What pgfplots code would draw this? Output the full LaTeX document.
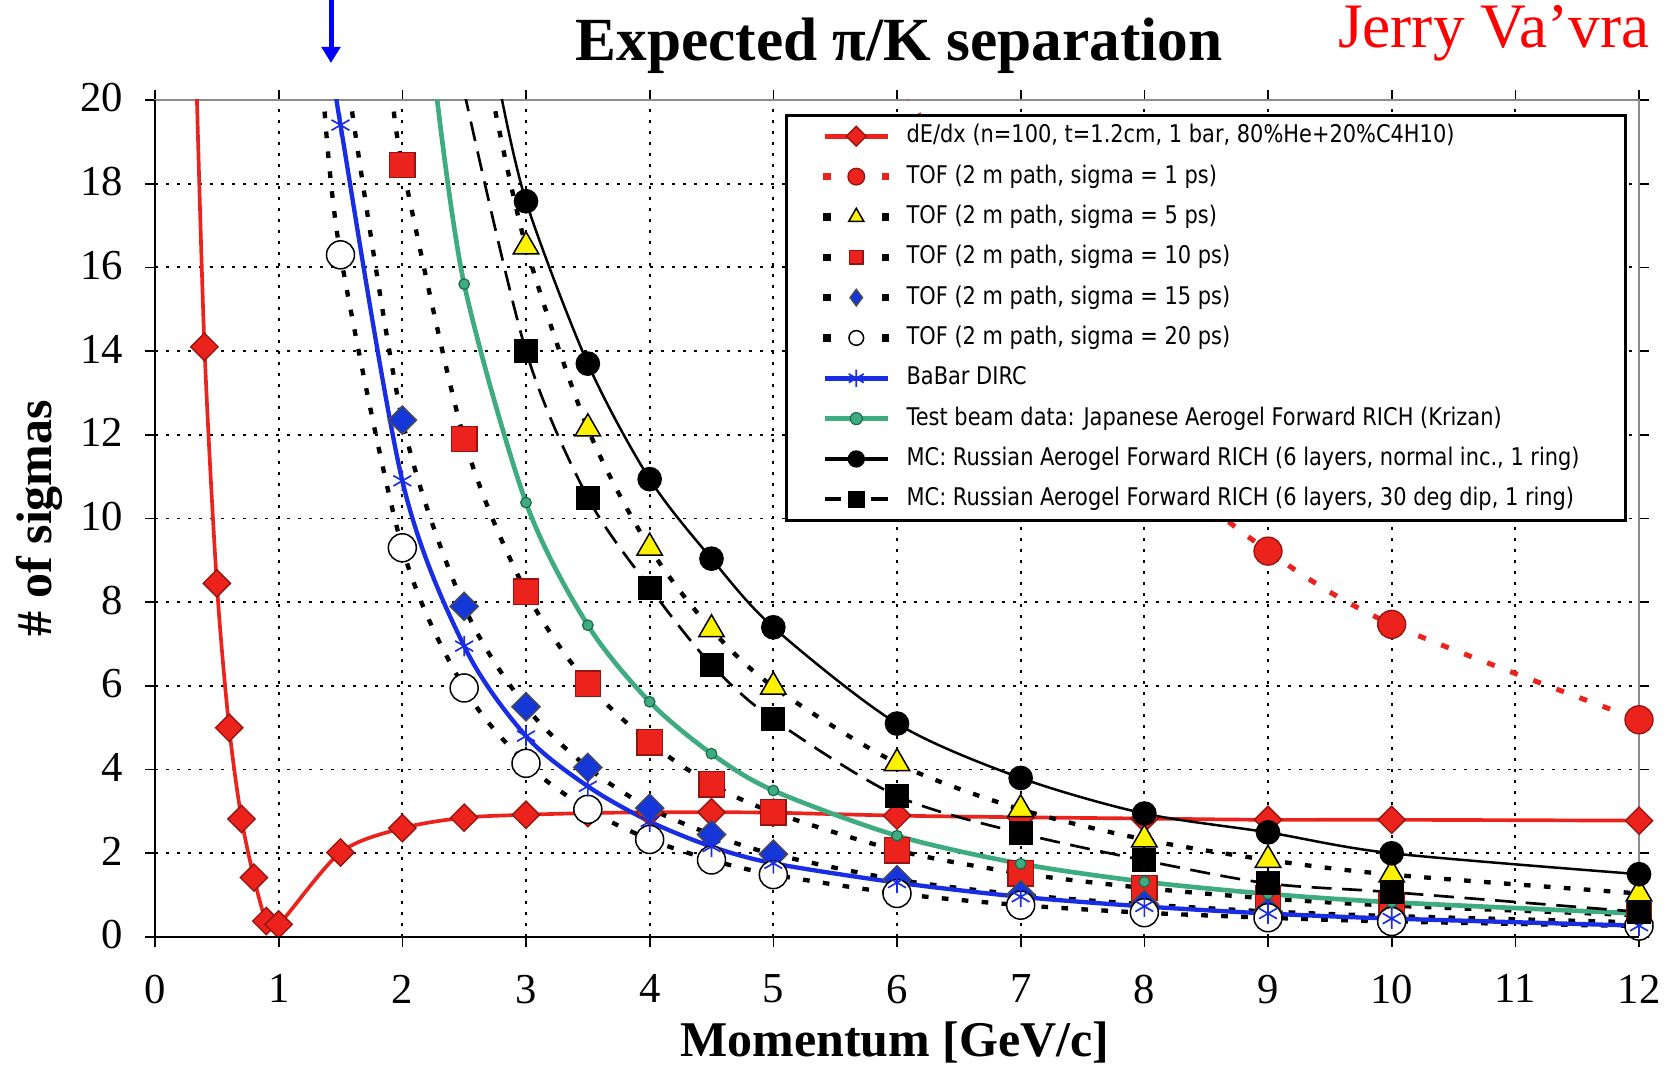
\documentclass[border=0pt]{standalone}
\usepackage{pgfplots}
\pgfplotsset{compat=1.18}
\usepackage{pgfplotstable}
\usepackage{fontspec}
\setmainfont{Liberation Serif}
\newfontfamily\legfont{DejaVu Sans}[FakeStretch=0.86]
\usetikzlibrary{arrows.meta}

\definecolor{dedxred}{RGB}{236,34,28}
\definecolor{darkred}{RGB}{150,20,15}
\definecolor{tofyellow}{RGB}{255,242,0}
\definecolor{dircblue}{RGB}{25,45,228}
\definecolor{diamblue}{RGB}{22,55,215}
\definecolor{beamgreen}{RGB}{62,172,128}
\definecolor{beamgreendark}{RGB}{25,105,75}

% dE/dx, n=100 samples
\pgfplotstableread{
p n
0.33 21.0
0.4 14.1
0.5 8.45
0.6 5.0
0.7 2.82
0.8 1.42
0.9 0.38
1.0 0.30
1.5 2.02
2.0 2.60
2.5 2.85
3.0 2.92
3.5 2.96
4.0 2.98
4.5 2.98
5.0 2.97
6.0 2.90
7.0 2.86
8.0 2.83
9.0 2.80
10.0 2.80
12.0 2.78
}\dedx

% TOF, 2 m flight path
\pgfplotstableread{
p n
6.08 20.2
7 15.25
8 11.67
9 9.22
10 7.47
12 5.19
}\tofone
\pgfplotstableread{
p n
2.72 20.2
3 16.5
3.5 12.15
4 9.3
4.5 7.35
5 5.98
6 4.15
7 3.05
8 2.33
9 1.84
10 1.49
12 1.04
}\toffive
\pgfplotstableread{
p n
1.92 20.2
2 18.45
2.5 11.9
3 8.25
3.5 6.05
4 4.65
4.5 3.65
5 2.98
6 2.07
7 1.52
8 1.17
9 0.92
10 0.75
12 0.52
}\tofTen
\pgfplotstableread{
p n
1.57 20.2
2 12.35
2.5 7.9
3 5.5
3.5 4.05
4 3.08
4.5 2.45
5 1.98
6 1.37
7 1.01
8 0.78
9 0.61
10 0.50
12 0.35
}\tofFifteen
\pgfplotstableread{
p n
1.36 20.2
1.5 16.3
2 9.3
2.5 5.95
3 4.15
3.5 3.05
4 2.33
4.5 1.84
5 1.49
6 1.04
7 0.76
8 0.58
9 0.46
10 0.37
12 0.26
}\tofTwenty

% BaBar DIRC
\pgfplotstableread{
p n
1.45 20.6
1.5 19.4
2 10.9
2.5 6.95
3 4.8
3.5 3.6
4 2.76
4.5 2.16
5 1.76
6 1.3
7 0.96
8 0.73
9 0.56
10 0.44
12 0.27
}\dirc

% aerogel RICH
\pgfplotstableread{
p n
2.27 20.3
2.5 15.6
3 10.38
3.5 7.45
4 5.62
4.5 4.38
5 3.5
6 2.42
7 1.75
8 1.32
9 1.03
10 0.83
12 0.56
}\beam
\pgfplotstableread{
p n
2.78 20.4
3 17.58
3.5 13.7
4 10.94
4.5 9.04
5 7.4
6 5.1
7 3.8
8 2.95
9 2.5
10 2.0
12 1.5
}\mcnormal
\pgfplotstableread{
p n
2.5 20.2
3 14.0
3.5 10.5
4 8.35
4.5 6.5
5 5.2
6 3.37
7 2.48
8 1.83
9 1.28
10 1.07
12 0.6
}\mcdip

\tikzset{
  tofline/.style={black, line width=1.3pt, dash pattern=on 2pt off 4pt},
  mk dedx/.style={mark=square*, mark size=2.9pt, mark options={rotate=45, solid, fill=dedxred, draw=darkred, line width=0.4pt}},
  mk tof1/.style={mark=*, mark size=4.2pt, mark options={solid, fill=dedxred, draw=darkred, line width=0.4pt}},
  mk tof5/.style={mark=triangle*, mark size=4.4pt, mark options={solid, fill=tofyellow, draw=black, line width=0.45pt}},
  mk tof10/.style={mark=square*, mark size=3.8pt, mark options={solid, fill=dedxred, draw=darkred, line width=0.4pt}},
  mk tof15/.style={mark=square*, mark size=3.0pt, mark options={rotate=45, solid, fill=diamblue, draw=black!70, line width=0.4pt}},
  mk tof15key/.style={mark=diamond*, mark size=2.5pt, mark options={solid, fill=diamblue, draw=black!70, line width=0.4pt}},
  mk tof20/.style={mark=*, mark size=4.2pt, mark options={solid, fill=white, draw=black, line width=0.45pt}},
  mk dirc/.style={mark=asterisk, mark size=3.1pt, mark options={solid, draw=dircblue, line width=0.5pt}},
  mk beam/.style={mark=*, mark size=1.6pt, mark options={solid, fill=beamgreen, draw=beamgreendark, line width=0.35pt}},
  mk mcn/.style={mark=*, mark size=3.5pt, mark options={solid, fill=black, draw=black}},
  mk mcd/.style={mark=square*, mark size=3.4pt, mark options={solid, fill=black, draw=black}},
}
% room between a legend key and its text
\newcommand\keypad{\path (21.1pt,0pt);}

\begin{document}
\begin{tikzpicture}[x=1pt,y=1pt]
\useasboundingbox (0,0) rectangle (500.7,320.1);
\begin{axis}[
  at={(46.5pt,39pt)}, anchor=south west,
  scale only axis, width=445.2pt, height=251.1pt,
  xmin=0, xmax=12, ymin=0, ymax=20,
  xtick={0,1,...,12}, ytick={0,2,...,20},
  tick align=outside, major tick length=3pt,
  tick style={black, line width=0.5pt},
  axis line style={black!45, line width=0.4pt},
  grid=major,
  major grid style={black, line width=0.55pt, dash pattern=on 0.9pt off 2.4pt},
  tick label style={font=\fontsize{12.8}{15}\selectfont},
  xticklabel style={yshift=-4.8pt},
  yticklabel style={xshift=-3pt, yshift=0.6pt},
  /pgf/number format/assume math mode=true,
  legend cell align=left,
  legend style={at={(0.4245,0.9833)}, anchor=north west,
    draw=black, fill=white, line width=0.8pt,
    font=\legfont\fontsize{7.3}{8.5}\selectfont,
    inner xsep=10.7pt, inner ysep=1.6pt, row sep=2.7pt,
    nodes={text height=5.7pt, text depth=1.7pt, inner xsep=3.1pt, inner ysep=1pt}},
]
% legend keys
\addlegendimage{legend image code/.code={\keypad
  \draw[dedxred, line width=1.6pt] (0pt,0pt) -- (19pt,0pt);
  \draw[mk dedx, mark size=2.1pt] plot coordinates {(9.5pt,0pt)};}}
\addlegendentry{dE/dx (n=100, t=1.2cm, 1 bar, 80\%He+20\%C4H10)}
\addlegendimage{legend image code/.code={\keypad
  \fill[dedxred] (0pt,-0.7pt) rectangle (1.4pt,0.7pt);
  \fill[dedxred] (17.6pt,-0.7pt) rectangle (19pt,0.7pt);
  \draw[mk tof1, mark size=2.5pt] plot coordinates {(9.5pt,0pt)};}}
\addlegendentry{TOF (2 m path, sigma = 1 ps)}
\addlegendimage{legend image code/.code={\keypad
  \fill[black] (0pt,-0.7pt) rectangle (1.4pt,0.7pt);
  \fill[black] (17.6pt,-0.7pt) rectangle (19pt,0.7pt);
  \draw[mk tof5, mark size=2.6pt] plot coordinates {(9.5pt,0pt)};}}
\addlegendentry{TOF (2 m path, sigma = 5 ps)}
\addlegendimage{legend image code/.code={\keypad
  \fill[black] (0pt,-0.7pt) rectangle (1.4pt,0.7pt);
  \fill[black] (17.6pt,-0.7pt) rectangle (19pt,0.7pt);
  \draw[mk tof10, mark size=2pt] plot coordinates {(9.5pt,0pt)};}}
\addlegendentry{TOF (2 m path, sigma = 10 ps)}
\addlegendimage{legend image code/.code={\keypad
  \fill[black] (0pt,-0.7pt) rectangle (1.4pt,0.7pt);
  \fill[black] (17.6pt,-0.7pt) rectangle (19pt,0.7pt);
  \draw[mk tof15key] plot coordinates {(9.5pt,0pt)};}}
\addlegendentry{TOF (2 m path, sigma = 15 ps)}
\addlegendimage{legend image code/.code={\keypad
  \fill[black] (0pt,-0.7pt) rectangle (1.4pt,0.7pt);
  \fill[black] (17.6pt,-0.7pt) rectangle (19pt,0.7pt);
  \draw[mk tof20, mark size=2.2pt] plot coordinates {(9.5pt,0pt)};}}
\addlegendentry{TOF (2 m path, sigma = 20 ps)}
\addlegendimage{legend image code/.code={\keypad
  \draw[dircblue, line width=1.6pt] (0pt,0pt) -- (19pt,0pt);
  \draw[mk dirc, mark size=2.6pt] plot coordinates {(9.5pt,0pt)};}}
\addlegendentry{BaBar DIRC}
\addlegendimage{legend image code/.code={\keypad
  \draw[beamgreen, line width=1.6pt] (0pt,0pt) -- (19pt,0pt);
  \draw[mk beam, mark size=1.8pt] plot coordinates {(9.5pt,0pt)};}}
\addlegendentry{Test beam data: Japanese Aerogel Forward RICH (Krizan)}
\addlegendimage{legend image code/.code={\keypad
  \draw[black, line width=1.2pt] (0pt,0pt) -- (19pt,0pt);
  \draw[mk mcn, mark size=2.2pt] plot coordinates {(9.5pt,0pt)};}}
\addlegendentry{MC: Russian Aerogel Forward RICH (6 layers, normal inc., 1 ring)}
\addlegendimage{legend image code/.code={\keypad
  \draw[black, line width=1.2pt] (0pt,0pt) -- (5pt,0pt);
  \draw[black, line width=1.2pt] (14pt,0pt) -- (19pt,0pt);
  \draw[mk mcd, mark size=2.1pt] plot coordinates {(9.5pt,0pt)};}}
\addlegendentry{MC: Russian Aerogel Forward RICH (6 layers, 30 deg dip, 1 ring)}

% dE/dx
\addplot[forget plot, smooth, dedxred, line width=1.1pt] table {\dedx};
\addplot[forget plot, only marks, mk dedx] table[skip first n=1] {\dedx};
% TOF 1 ps
\addplot[forget plot, smooth, dedxred, line width=1.5pt, dash pattern=on 2.4pt off 5pt] table {\tofone};
\addplot[forget plot, only marks, mk tof1] table[skip first n=1] {\tofone};
% TOF 5 ps
\addplot[forget plot, smooth, tofline] table {\toffive};
\addplot[forget plot, only marks, mk tof5] table[skip first n=1] {\toffive};
% TOF 10 ps
\addplot[forget plot, smooth, tofline] table {\tofTen};
\addplot[forget plot, only marks, mk tof10] table[skip first n=1] {\tofTen};
% TOF 15 ps
\addplot[forget plot, smooth, tofline] table {\tofFifteen};
\addplot[forget plot, only marks, mk tof15] table[skip first n=1] {\tofFifteen};
% TOF 20 ps
\addplot[forget plot, smooth, tofline] table {\tofTwenty};
\addplot[forget plot, only marks, mk tof20] table[skip first n=1] {\tofTwenty};
% BaBar DIRC
\addplot[forget plot, smooth, dircblue, line width=1.3pt] table {\dirc};
\addplot[forget plot, only marks, mk dirc] table[skip first n=1] {\dirc};
% Japanese aerogel test beam
\addplot[forget plot, smooth, beamgreen, line width=1.4pt] table {\beam};
\addplot[forget plot, only marks, mk beam] table[skip first n=1] {\beam};
% MC, normal incidence
\addplot[forget plot, smooth, black, line width=0.75pt] table {\mcnormal};
\addplot[forget plot, only marks, mk mcn] table[skip first n=1] {\mcnormal};
% MC, 30 deg dip
\addplot[forget plot, smooth, black, line width=0.8pt, dash pattern=on 6pt off 3.2pt] table {\mcdip};
\addplot[forget plot, only marks, mk mcd] table[skip first n=1] {\mcdip};
\end{axis}

% left and bottom frame lines
\draw[black, line width=0.8pt] (46.5,290.1) -- (46.5,39) -- (491.7,39);

% titles and labels
\node[anchor=base, inner sep=0pt, font=\bfseries\fontsize{18.4}{20}\selectfont] at (269.7,301.8) {Expected π/K separation};
\node[anchor=base east, inner sep=0pt, text=red, font=\fontsize{19}{21}\selectfont] at (495,305.7) {Jerry Va’vra};
\node[anchor=base, inner sep=0pt, font=\bfseries\fontsize{15}{17}\selectfont] at (268.5,3) {Momentum [GeV/c]};
\node[anchor=center, rotate=90, inner sep=0pt, font=\bfseries\fontsize{15}{17}\selectfont] at (11.7,164.7) {\# of sigmas};

% marker arrow
\draw[blue, line width=1.5pt, -{Triangle[length=4.8pt, width=5.5pt]}] (99.3,320.1) -- (99.3,301.2);
\end{tikzpicture}
\end{document}
